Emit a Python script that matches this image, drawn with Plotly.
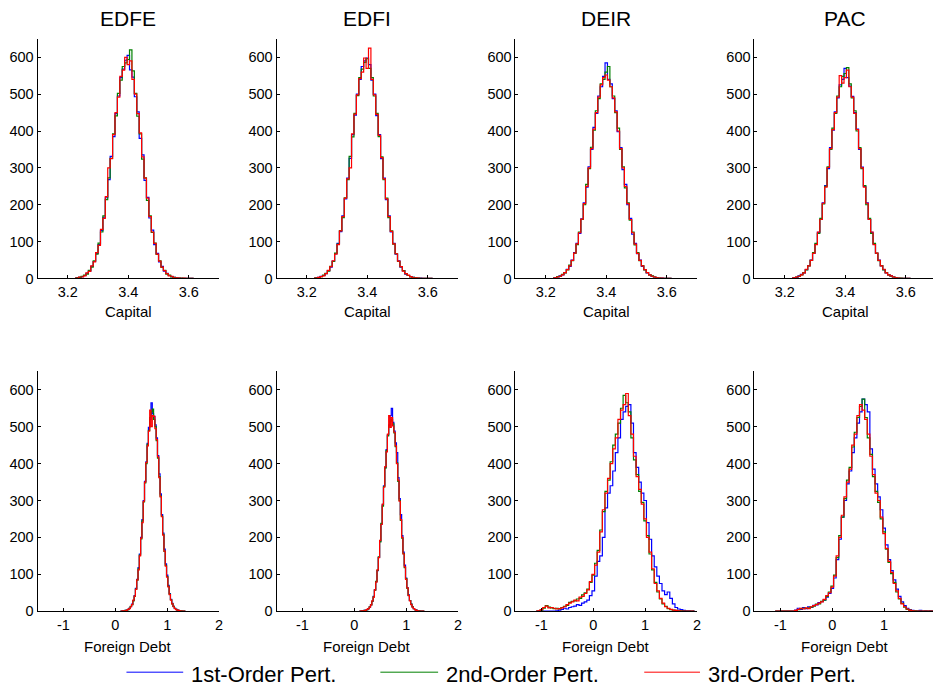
import numpy as np
import plotly.graph_objects as go

# ---------------- data: histogram counts ----------------
panels = ["EDFE", "EDFI", "DEIR", "PAC"]
series_names = ["1st-Order Pert.", "2nd-Order Pert.", "3rd-Order Pert."]
series_colors = ["#0000FF", "#008000", "#FF0000"]

# Capital: bins of width 0.008 starting at 3.224
cap_bin_start, cap_bin_width, cap_nbins = 3.224, 0.008, 50
cap_centers = cap_bin_start + cap_bin_width * np.arange(cap_nbins)

cap_edfe_1 = [1, 2, 3, 5, 8, 14, 20, 33, 46, 68,
              92, 130, 166, 219, 268, 331, 385, 447, 495, 545,
              568, 592, 605, 566, 546, 493, 452, 380, 335, 266,
              220, 164, 131, 92, 68, 45, 33, 20, 14, 8,
              5, 3, 2, 1, 0, 0, 0, 0, 0, 0]
cap_edfe_2 = [0, 2, 3, 6, 9, 12, 22, 31, 48, 66,
              96, 126, 170, 214, 273, 326, 392, 441, 502, 538,
              575, 585, 594, 620, 563, 502, 440, 392, 324, 273,
              212, 170, 125, 96, 65, 48, 30, 22, 12, 9,
              4, 3, 1, 1, 1, 0, 0, 0, 0, 0]
cap_edfe_3 = [1, 1, 4, 4, 7, 15, 19, 34, 45, 70,
              90, 133, 163, 222, 300, 325, 390, 450, 492, 548,
              565, 600, 580, 590, 540, 500, 447, 395, 330, 272,
              218, 168, 126, 95, 66, 47, 31, 21, 13, 7,
              6, 2, 2, 1, 0, 1, 0, 0, 0, 0]

cap_edfi_1 = [1, 1, 3, 6, 8, 13, 21, 31, 47, 67,
              95, 127, 170, 216, 272, 326, 390, 443, 500, 540,
              575, 590, 598, 580, 538, 500, 442, 390, 325, 272,
              214, 170, 126, 95, 66, 48, 31, 21, 12, 8,
              5, 3, 1, 1, 1, 0, 0, 0, 0, 0]
cap_edfi_2 = [0, 2, 2, 5, 9, 14, 20, 33, 46, 69,
              93, 130, 165, 219, 268, 331, 384, 448, 496, 545,
              568, 586, 596, 570, 545, 495, 448, 385, 330, 268,
              218, 165, 129, 93, 67, 46, 32, 21, 13, 8,
              4, 3, 2, 1, 0, 0, 0, 0, 0, 0]
cap_edfi_3 = [1, 1, 3, 5, 7, 13, 22, 32, 48, 66,
              92, 129, 168, 218, 270, 300, 392, 446, 498, 542,
              560, 598, 570, 625, 540, 498, 445, 388, 328, 270,
              216, 168, 128, 94, 67, 47, 32, 20, 13, 9,
              5, 2, 2, 1, 0, 0, 0, 0, 0, 0]

cap_deir_1 = [1, 2, 4, 7, 10, 16, 25, 33, 50, 70,
              95, 122, 162, 205, 248, 303, 350, 410, 448, 495,
              520, 548, 585, 540, 528, 488, 455, 398, 355, 295,
              255, 200, 163, 120, 95, 67, 50, 33, 24, 15,
              10, 6, 4, 2, 1, 1, 0, 0, 0, 0]
cap_deir_2 = [1, 1, 5, 6, 11, 15, 23, 36, 48, 68,
              92, 126, 160, 200, 255, 298, 356, 402, 455, 488,
              528, 540, 560, 575, 520, 495, 450, 408, 350, 303,
              246, 205, 158, 126, 91, 70, 48, 35, 23, 16,
              10, 7, 4, 2, 1, 0, 0, 0, 0, 0]
cap_deir_3 = [0, 2, 4, 6, 10, 16, 24, 34, 49, 69,
              94, 124, 161, 203, 250, 300, 352, 405, 450, 492,
              525, 545, 552, 538, 520, 490, 452, 400, 352, 300,
              250, 203, 160, 124, 93, 68, 49, 34, 24, 16,
              10, 6, 4, 2, 1, 1, 0, 0, 0, 0]

cap_pac_1 = [1, 2, 3, 7, 11, 15, 24, 35, 50, 68,
             93, 125, 160, 205, 252, 298, 355, 402, 452, 490,
             525, 540, 570, 545, 522, 494, 450, 405, 350, 302,
             250, 205, 160, 125, 93, 68, 50, 34, 24, 15,
             10, 7, 4, 2, 1, 0, 0, 0, 0, 0]
cap_pac_2 = [0, 1, 4, 6, 10, 16, 23, 34, 49, 70,
             95, 122, 163, 202, 250, 303, 350, 408, 448, 495,
             520, 548, 556, 572, 528, 490, 455, 400, 355, 298,
             252, 200, 163, 122, 95, 69, 48, 35, 23, 16,
             10, 6, 4, 2, 1, 1, 0, 0, 0, 0]
cap_pac_3 = [1, 2, 4, 6, 10, 15, 25, 34, 49, 68,
             92, 126, 160, 204, 248, 301, 352, 404, 450, 492,
             550, 530, 545, 565, 520, 492, 448, 404, 352, 300,
             248, 204, 160, 126, 92, 69, 49, 34, 25, 15,
             10, 7, 4, 2, 1, 0, 0, 0, 0, 0]

# Foreign debt (EDFE, EDFI): bins of width 0.025 starting at 0.1
debt_n_start, debt_n_width, debt_n_nbins = 0.1, 0.025, 51
debt_n_centers = debt_n_start + debt_n_width * np.arange(debt_n_nbins)

debt_edfe_1 = [0, 0, 1, 1, 2, 3, 5, 8, 12, 19,
               29, 42, 62, 86, 118, 155, 200, 248, 300, 352,
               405, 455, 498, 520, 565, 535, 528, 505, 470, 422,
               372, 318, 262, 212, 168, 128, 98, 70, 48, 32,
               21, 13, 8, 5, 3, 2, 1, 0, 0, 0, 0]
debt_edfe_2 = [0, 0, 0, 1, 2, 3, 4, 8, 13, 18,
               28, 40, 60, 84, 115, 152, 196, 245, 296, 348,
               400, 452, 490, 525, 540, 548, 520, 500, 462, 415,
               365, 312, 258, 208, 162, 124, 94, 67, 46, 31,
               20, 13, 8, 5, 3, 1, 1, 1, 0, 0, 0]
debt_edfe_3 = [0, 0, 1, 1, 1, 3, 5, 7, 12, 18,
               30, 41, 59, 85, 112, 150, 198, 240, 298, 350,
               403, 448, 488, 545, 500, 530, 528, 495, 465, 418,
               362, 310, 256, 206, 163, 122, 92, 66, 45, 30,
               20, 12, 7, 4, 3, 2, 1, 0, 0, 0, 0]

debt_edfi_1 = [0, 0, 1, 1, 2, 3, 4, 7, 11, 18,
               27, 40, 58, 80, 110, 146, 190, 236, 288, 340,
               390, 438, 478, 505, 530, 550, 512, 488, 456, 430,
               362, 305, 262, 205, 160, 125, 90, 64, 44, 29,
               19, 12, 7, 4, 3, 1, 1, 0, 0, 0, 0]
debt_edfi_2 = [0, 0, 0, 1, 2, 2, 4, 7, 12, 17,
               27, 39, 57, 81, 111, 147, 188, 238, 285, 338,
               388, 435, 475, 502, 515, 520, 508, 483, 446, 402,
               352, 300, 246, 198, 156, 118, 88, 62, 43, 29,
               19, 12, 7, 4, 2, 1, 1, 0, 0, 0, 0]
debt_edfi_3 = [0, 0, 1, 1, 1, 3, 5, 7, 11, 17,
               28, 38, 58, 79, 112, 145, 192, 235, 290, 336,
               392, 432, 480, 530, 498, 525, 502, 485, 448, 400,
               355, 298, 248, 200, 155, 120, 86, 63, 42, 28,
               18, 11, 7, 4, 2, 1, 0, 0, 0, 0, 0]

# Foreign debt (DEIR, PAC): bins of width 0.05 starting at -1.1
debt_w_start, debt_w_width, debt_w_nbins = -1.1, 0.05, 62
debt_w_centers = debt_w_start + debt_w_width * np.arange(debt_w_nbins)

debt_deir_1 = [0, 0, 0, 0, 0, 0, 0, 0, 1, 3,
               5, 8, 6, 10, 12, 14, 18, 16, 22, 25,
               30, 42, 55, 95, 135, 150, 200, 280, 320, 340,
               380, 430, 470, 520, 540, 555, 560, 510, 430, 390,
               350, 320, 300, 240, 195, 150, 120, 95, 75, 55,
               45, 52, 35, 20, 10, 6, 4, 2, 1, 1,
               0, 1]
debt_deir_2 = [0, 0, 3, 8, 15, 11, 9, 7, 8, 6,
               10, 13, 16, 24, 27, 28, 33, 35, 44, 50,
               60, 78, 98, 130, 165, 220, 270, 325, 355, 405,
               450, 480, 510, 550, 585, 565, 540, 470, 410, 370,
               325, 295, 245, 205, 155, 112, 78, 52, 33, 20,
               13, 7, 4, 3, 2, 1, 1, 0, 0, 0,
               0, 0]
debt_deir_3 = [0, 1, 4, 10, 14, 9, 10, 8, 6, 7,
               9, 12, 18, 22, 25, 30, 28, 38, 40, 48,
               58, 80, 100, 125, 160, 215, 275, 320, 360, 400,
               440, 470, 520, 545, 560, 590, 530, 480, 420, 365,
               330, 290, 250, 200, 160, 115, 75, 55, 35, 22,
               12, 8, 5, 3, 2, 1, 0, 0, 0, 0,
               0, 0]

debt_pac_1 = [0, 0, 0, 0, 0, 0, 0, 0, 3, 8,
              5, 10, 7, 12, 10, 16, 17, 23, 26, 30,
              38, 48, 62, 90, 140, 195, 255, 300, 345, 380,
              430, 470, 510, 540, 575, 560, 540, 440, 385, 345,
              310, 275, 225, 180, 140, 110, 85, 60, 40, 25,
              15, 8, 4, 2, 1, 1, 2, 0, 1, 0,
              1, 0]
debt_pac_2 = [0, 0, 0, 0, 0, 0, 0, 0, 1, 4,
              7, 8, 8, 9, 11, 14, 19, 20, 27, 30,
              40, 52, 68, 98, 145, 205, 255, 305, 355, 390,
              445, 485, 525, 555, 575, 525, 470, 425, 365, 325,
              295, 250, 215, 168, 132, 102, 78, 52, 33, 21,
              11, 5, 3, 1, 1, 0, 0, 0, 0, 0,
              0, 0]
debt_pac_3 = [0, 0, 0, 0, 0, 0, 0, 0, 2, 5,
              8, 6, 9, 7, 12, 15, 18, 22, 25, 32,
              42, 50, 65, 95, 150, 200, 260, 310, 350, 385,
              450, 480, 530, 560, 545, 520, 480, 420, 370, 320,
              300, 255, 210, 170, 135, 105, 75, 55, 35, 20,
              12, 6, 3, 1, 0, 0, 0, 0, 0, 0,
              0, 0]

capital_counts = [
    [cap_edfe_1, cap_edfe_2, cap_edfe_3],
    [cap_edfi_1, cap_edfi_2, cap_edfi_3],
    [cap_deir_1, cap_deir_2, cap_deir_3],
    [cap_pac_1, cap_pac_2, cap_pac_3],
]
debt_counts = [
    [debt_edfe_1, debt_edfe_2, debt_edfe_3],
    [debt_edfi_1, debt_edfi_2, debt_edfi_3],
    [debt_deir_1, debt_deir_2, debt_deir_3],
    [debt_pac_1, debt_pac_2, debt_pac_3],
]
debt_centers = [debt_n_centers, debt_n_centers, debt_w_centers, debt_w_centers]

capital_ticks = [3.2, 3.4, 3.6]
debt_ticks = [-1, 0, 1, 2]
count_ticks = [0, 100, 200, 300, 400, 500, 600]

# ---------------- layout geometry (pixels) ----------------
W, H = 937, 696
col_left = [37.7, 277.7, 517.7, 757.7]
panel_w = 182.3
row_top = [(39.3, 281.7), (375.7, 618.3)]   # (top, bottom) of each row
cap_range = (3.1, 3.7)
debt_range = (-1.5, 2.0)

FONT = "Liberation Sans, Arial, Helvetica, sans-serif"

fig = go.Figure()
layout = dict(
    width=W, height=H,
    margin=dict(l=0, r=0, t=0, b=0),
    paper_bgcolor="white", plot_bgcolor="white",
    showlegend=False,
    font=dict(family=FONT, color="black"),
)

annotations = []
shapes = []

def axis_common():
    return dict(
        showline=True, linecolor="black", linewidth=1,
        ticks="inside", ticklen=3, tickwidth=1, tickcolor="black",
        showgrid=False, zeroline=False, mirror=False,
        tickfont=dict(family=FONT, size=14.5, color="black"),
    )

for r in range(2):
    top_px, bot_px = row_top[r]
    ydom = [1 - bot_px / H, 1 - top_px / H]
    for c in range(4):
        idx = r * 4 + c + 1
        xname = "xaxis" if idx == 1 else f"xaxis{idx}"
        yname = "yaxis" if idx == 1 else f"yaxis{idx}"
        xref = "x" if idx == 1 else f"x{idx}"
        yref = "y" if idx == 1 else f"y{idx}"

        x0 = col_left[c]
        x1 = min(x0 + panel_w, W)
        xdom = [x0 / W, x1 / W]
        lo, hi = cap_range if r == 0 else debt_range
        hi_vis = lo + (hi - lo) * (x1 - x0) / panel_w

        xa = axis_common()
        xa.update(domain=xdom, range=[lo, hi_vis], anchor=yref,
                  tickmode="array",
                  tickvals=capital_ticks if r == 0 else debt_ticks,
                  ticktext=[f"{v:g}" for v in (capital_ticks if r == 0 else debt_ticks)])
        ya = axis_common()
        ya.update(domain=ydom, range=[0, 650], anchor=xref,
                  tickmode="array", tickvals=count_ticks)
        layout[xname] = xa
        layout[yname] = ya

        centers = cap_centers if r == 0 else debt_centers[c]
        counts = capital_counts[c] if r == 0 else debt_counts[c]
        for s in range(3):
            assert len(counts[s]) == len(centers)
            fig.add_trace(go.Scatter(
                x=centers, y=counts[s], mode="lines",
                line=dict(color=series_colors[s], width=1.2, shape="hvh"),
                name=series_names[s], xaxis=xref, yaxis=yref,
                hoverinfo="skip",
            ))

        # x-axis title below tick labels
        annotations.append(dict(
            text="Capital" if r == 0 else "Foreign Debt",
            xref="paper", yref="paper",
            x=(x0 + panel_w / 2) / W,
            y=1 - (bot_px + (33 if r == 0 else 36)) / H,
            xanchor="center", yanchor="middle", showarrow=False,
            font=dict(family=FONT, size=15, color="black"),
        ))
        # panel titles on the top row
        if r == 0:
            annotations.append(dict(
                text=panels[c], xref="paper", yref="paper",
                x=(x0 + panel_w / 2) / W, y=1 - 19 / H,
                xanchor="center", yanchor="middle", showarrow=False,
                font=dict(family=FONT, size=21, color="black"),
            ))

# legend along the bottom
legend_line_x = [(127, 184), (382, 440), (647, 703)]
legend_y = 680
for (lx0, lx1), name, color in zip(legend_line_x, series_names, series_colors):
    shapes.append(dict(
        type="line", xref="paper", yref="paper",
        x0=lx0 / W, x1=lx1 / W, y0=1 - legend_y / H, y1=1 - legend_y / H,
        line=dict(color=color, width=1),
    ))
    annotations.append(dict(
        text=name, xref="paper", yref="paper",
        x=(lx1 + 6) / W, y=1 - (legend_y + 2) / H,
        xanchor="left", yanchor="middle", showarrow=False,
        font=dict(family=FONT, size=22, color="black"),
    ))

layout["annotations"] = annotations
layout["shapes"] = shapes
fig.update_layout(**layout)
fig.write_html("out.html")
